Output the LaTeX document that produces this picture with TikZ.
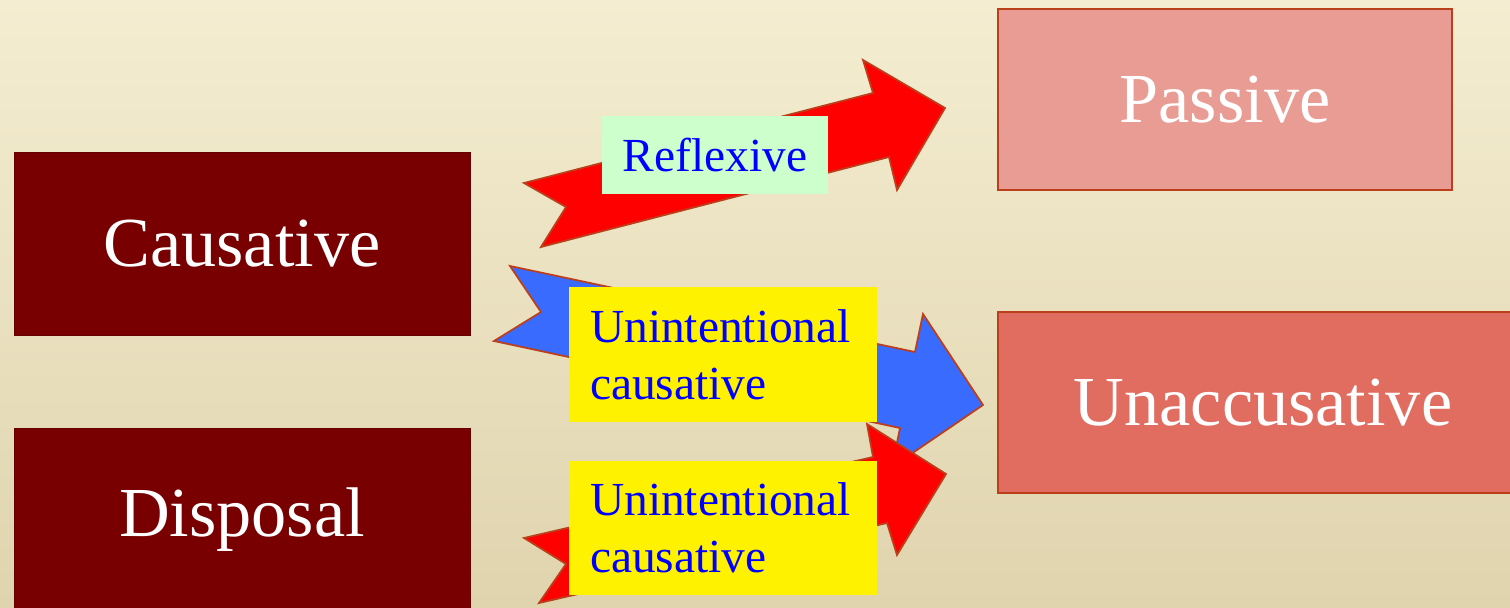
\documentclass[tikz,border=0pt]{standalone}
\usepackage{fontspec}
\setmainfont{Liberation Serif}
\usetikzlibrary{positioning}

\definecolor{paperlight}{HTML}{F4EDD1}
\definecolor{paperdark}{HTML}{E0D4AE}
\definecolor{maroon}{HTML}{780000}
\definecolor{rosebox}{HTML}{E99C93}
\definecolor{coralbox}{HTML}{E06D60}
\definecolor{rustline}{HTML}{BC3F1C}
\definecolor{arrowblue}{HTML}{3A6BFF}
\definecolor{mint}{HTML}{CCFFCC}

\tikzset{
  bigtext/.style={text=white,font=\fontsize{40}{48}\selectfont},
  darkbox/.style={bigtext,fill=maroon,draw=maroon!85!black,minimum width=9.12cm,minimum height=3.66cm},
  lightbox/.style={bigtext,draw=rustline,line width=1pt,minimum height=3.62cm},
  fatarrow/.style={draw=rustline,line width=1pt,line join=miter},
  tag/.style={text=blue,font=\fontsize{27}{32.4}\selectfont,inner sep=0pt},
  twoline/.style={tag,fill=yellow,minimum width=6.16cm,minimum height=2.7cm,
    text width=5.32cm,align=left,inner xsep=0.42cm}
}

\begin{document}
\begin{tikzpicture}[x=0.02cm,y=-0.02cm]
\useasboundingbox (0,0) rectangle (1510,608);
\clip (0,0) rectangle (1510,608);
\shade[top color=paperlight,bottom color=paperdark] (0,0) rectangle (1510,608);

% left boxes
\node[darkbox] (caus) at (242,243.5) {Causative};
\node[darkbox] (disp) at (242,519.5) {Disposal};

% right boxes
\node[lightbox,fill=rosebox,minimum width=9.08cm] (pass) at (1225,99.5) {Passive};
\node[lightbox,fill=coralbox,minimum width=10.6cm] (unacc) at (1263,402.5) {Unaccusative};

% fat arrows
\draw[fatarrow,fill=red] (524,183) -- (566,207) -- (541,247) -- (889,157) -- (897,190)
  -- (945,108) -- (863,60) -- (873,93) -- cycle;
\draw[fatarrow,fill=arrowblue] (510,266) -- (541,312) -- (494,341) -- (900,428) -- (892,467)
  -- (983,405) -- (923,314) -- (915,352) -- cycle;
\draw[fatarrow,fill=red] (524,538) -- (566,564) -- (539,603) -- (887,523) -- (897,555)
  -- (946,474) -- (867,424) -- (873,457) -- cycle;

% labels on the arrows
\node[tag,fill=mint,minimum width=4.52cm,minimum height=1.56cm] (refl) at (715,155) {Reflexive};
\node[twoline] (unint1) at (723,354.5) {Unintentional\\causative};
\node[twoline] (unint2) at (723,528) {Unintentional\\causative};
\end{tikzpicture}
\end{document}
